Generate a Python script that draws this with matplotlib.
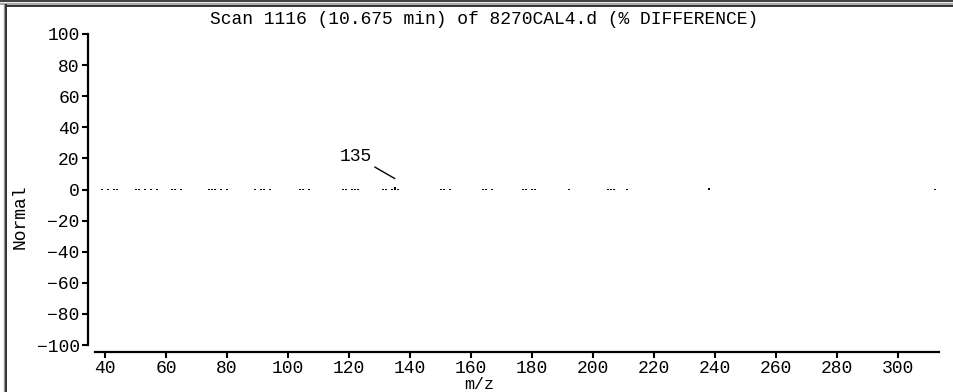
import matplotlib
matplotlib.use("Agg")
import matplotlib.pyplot as plt
from matplotlib.lines import Line2D
import numpy as np

# peaks of the difference spectrum (m/z, % difference), all near zero
mz = [39, 41, 43, 44,
      50, 51, 53, 55, 57,
      62, 63, 65,
      74, 75, 76, 78, 80,
      89, 91, 92, 94,
      104, 105, 107,
      118, 119, 121, 122, 123,
      131, 132, 134, 135, 136,
      150, 151, 153,
      164, 165, 167,
      177, 178, 180, 181,
      192,
      205, 206, 207, 211,
      238,
      312]
diff = [0.6, 0.6, 0.6, 0.6,
        0.6, 0.6, 0.6, 0.6, 0.6,
        0.6, 0.6, 0.6,
        0.6, 0.6, 0.6, 0.6, 0.6,
        0.6, 0.6, 0.6, 0.6,
        0.6, 0.6, 0.6,
        0.6, 0.6, 0.6, 0.6, 0.6,
        0.6, 0.6, 0.6, 1.4, 0.6,
        0.6, 0.6, 0.6,
        0.6, 0.6, 0.6,
        0.6, 0.6, 0.6, 0.6,
        0.6,
        0.6, 0.6, 0.6, 0.6,
        0.8,
        0.6]

label_mz = 135
label_xy = (127.5, 21.5)
title = "Scan 1116 (10.675 min) of 8270CAL4.d (% DIFFERENCE)"
xticks = list(range(40, 301, 20))
yticks = list(range(-100, 101, 20))

W, H = 954, 392
plt.rcParams['font.family'] = ['Liberation Mono', 'DejaVu Sans Mono']
fs = 13

fig = plt.figure(figsize=(W / 100, H / 100), dpi=100)
ax = fig.add_axes([95 / W, (H - 345) / H, (939 - 95) / W, (345 - 34) / H])

ax.vlines(mz, 0, diff, color='black', linewidth=1.4)

# label for m/z 135
ax.annotate(str(label_mz), xy=(label_mz, 7), xytext=label_xy,
            ha='right', va='center', fontsize=fs,
            arrowprops=dict(arrowstyle='-', color='black', lw=1,
                            shrinkA=0, shrinkB=0))

ax.set_xlim(36.7, 313.4)
ax.set_ylim(-100, 100)
ax.set_xticks(xticks)
ax.set_yticks(yticks)
ax.set_yticklabels([f"{v:d}".replace('-', '\u2212') for v in yticks])
ax.tick_params(axis='both', labelsize=fs, colors='black', width=1.5)
ax.tick_params(axis='x', length=4, pad=1.5)
ax.tick_params(axis='y', length=4, pad=2)

for s in ['top', 'right']:
    ax.spines[s].set_visible(False)
for s in ['left', 'bottom']:
    ax.spines[s].set_position(('outward', 5))
    ax.spines[s].set_linewidth(1.6)
ax.spines['left'].set_bounds(-100, 100)

fig.text(484 / W, 1 - 20 / H, title, ha='center', va='center', fontsize=fs)
fig.text(20 / W, 1 - 217 / H, "Normal", rotation=90, ha='center', va='center',
         fontsize=fs)
fig.text(479 / W, 0, "m/z", ha='center', va='bottom', fontsize=12)

# window frame (top and left edges)
fig.add_artist(Line2D([0, 1], [1 - 1 / H, 1 - 1 / H], color='#444444', lw=1.6))
fig.add_artist(Line2D([0, 1], [1 - 3.5 / H, 1 - 3.5 / H], color='#999999', lw=1.2))
fig.add_artist(Line2D([6 / W, 1], [1 - 5.5 / H, 1 - 5.5 / H], color='#333333', lw=1.4))
fig.add_artist(Line2D([4 / W, 4 / W], [0, 1 - 4 / H], color='#999999', lw=1.0))
fig.add_artist(Line2D([6 / W, 6 / W], [0, 1 - 5 / H], color='#333333', lw=1.4))

fig.savefig("out.png", dpi=100)
